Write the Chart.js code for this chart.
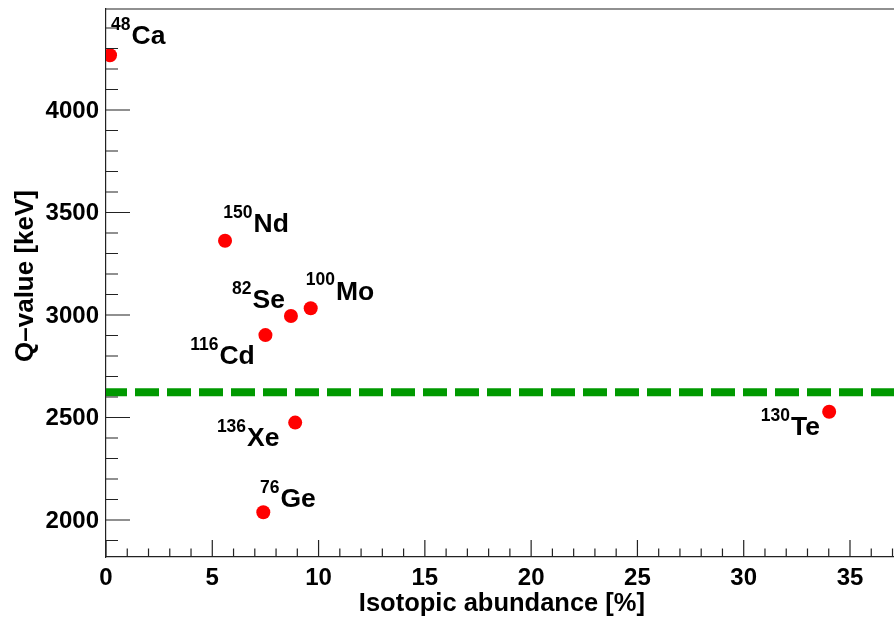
<!DOCTYPE html>
<html>
<head>
<meta charset="utf-8">
<script src="https://cdn.jsdelivr.net/npm/chart.js@4/dist/chart.umd.min.js"></script>
<style>
html,body{margin:0;padding:0;background:#fff;}
#wrap{width:894px;height:618px;position:relative;}
</style>
</head>
<body>
<div id="wrap"><canvas id="c" width="894" height="618"></canvas></div>
<script>
// ---- data ----
const massNumbers = ['48', '150', '82', '100', '116', '136', '76', '130'];
const elements = ['Ca', 'Nd', 'Se', 'Mo', 'Cd', 'Xe', 'Ge', 'Te'];
const abundance = [0.19, 5.6, 8.7, 9.63, 7.5, 8.9, 7.4, 34.02];   // %
const qValue = [4267, 3362, 2995, 3033, 2902, 2475, 2038, 2528];   // keV
const thresholdQ = [2623];                                          // keV, dashed line
const xRange = [0, 37.07];
const yRange = [1819.5, 4492.7];
const xTickValues = [0, 5, 10, 15, 20, 25, 30, 35];
const yTickValues = [2000, 2500, 3000, 3500, 4000];
const xTitle = 'Isotopic abundance [%]';
const yTitle = 'Q\u2013value [keV]';

// label placement (pixels relative to the marker): [dx, dy of main baseline, anchor]
const labelPlacement = [
  [1, -11, 'left'],
  [-1.7, -8.4, 'left'],
  [-6, -7.7, 'right'],
  [-5, -8.3, 'left'],
  [-10.7, 29, 'right'],
  [-15.7, 23.5, 'right'],
  [-3.3, -5, 'left'],
  [-9.3, 23.3, 'right']
];

const FONT = '"Liberation Sans", Arial, Helvetica, sans-serif';
const points = abundance.map((x, i) => ({x: x, y: qValue[i]}));

const frameAndTicks = {
  id: 'frameAndTicks',
  afterDatasetsDraw(chart) {
    const ctx = chart.ctx;
    const a = chart.chartArea;
    const xs = chart.scales.x, ys = chart.scales.y;
    ctx.save();
    ctx.strokeStyle = '#222';
    ctx.lineWidth = 1.2;
    ctx.beginPath();
    ctx.moveTo(a.left, a.top); ctx.lineTo(a.right, a.top);
    for (let v = Math.ceil(ys.min / 100) * 100; v <= ys.max; v += 100) {
      const p = ys.getPixelForValue(v);
      const len = (v % 500 === 0) ? 24 : 12;
      ctx.moveTo(a.left, p); ctx.lineTo(a.left + len, p);
    }
    for (let v = Math.ceil(xs.min); v <= xs.max; v += 1) {
      const p = xs.getPixelForValue(v);
      const len = (v % 5 === 0) ? 17 : 8.5;
      ctx.moveTo(p, a.bottom); ctx.lineTo(p, a.bottom - len);
    }
    ctx.stroke();

    // axis titles
    ctx.fillStyle = '#000';
    ctx.font = 'bold 25.5px ' + FONT;
    ctx.textAlign = 'right';
    ctx.textBaseline = 'alphabetic';
    ctx.fillText(xTitle, 645, 610.5);
    ctx.font = 'bold 26px ' + FONT;
    ctx.translate(33, 190);
    ctx.rotate(-Math.PI / 2);
    ctx.fillText(yTitle, 0, 0);
    ctx.restore();

    // isotope labels
    ctx.save();
    ctx.fillStyle = '#000';
    ctx.textBaseline = 'alphabetic';
    ctx.textAlign = 'left';
    const meta = chart.getDatasetMeta(0);
    meta.data.forEach((el, i) => {
      const [dx, dy, anchor] = labelPlacement[i];
      ctx.font = 'bold 17.5px ' + FONT;
      const wSup = ctx.measureText(massNumbers[i]).width;
      ctx.font = 'bold 26.5px ' + FONT;
      const wMain = ctx.measureText(elements[i]).width;
      const gap = 1;
      let left = el.x + dx;
      if (anchor === 'right') left = el.x + dx - (wSup + gap + wMain);
      const base = el.y + dy;
      ctx.font = 'bold 17.5px ' + FONT;
      ctx.fillText(massNumbers[i], left, base - 14.5);
      ctx.font = 'bold 26.5px ' + FONT;
      ctx.fillText(elements[i], left + wSup + gap, base);
    });
    ctx.restore();
  }
};

function fixFit(size, prop) {
  return s => {
    s[prop] = size;
    s.paddingTop = 0; s.paddingBottom = 0; s.paddingLeft = 0; s.paddingRight = 0;
  };
}

new Chart(document.getElementById('c'), {
  type: 'scatter',
  data: {
    datasets: [
      {
        label: 'isotopes',
        data: points,
        pointRadius: 7,
        pointHoverRadius: 7,
        pointBackgroundColor: '#ff0000',
        pointBorderWidth: 0,
        borderWidth: 0
      },
      {
        type: 'line',
        label: 'threshold',
        data: [{x: xRange[0], y: thresholdQ[0]}, {x: xRange[1], y: thresholdQ[0]}],
        borderColor: '#009900',
        borderWidth: 8,
        borderDash: [24, 8],
        borderDashOffset: 3,
        borderCapStyle: 'butt',
        pointRadius: 0,
        fill: false
      }
    ]
  },
  options: {
    responsive: false,
    animation: false,
    events: [],
    layout: {autoPadding: false, padding: {top: 9, right: 0, bottom: 0, left: 0}},
    plugins: {legend: {display: false}, tooltip: {enabled: false}, title: {display: false}},
    scales: {
      x: {
        type: 'linear',
        min: xRange[0], max: xRange[1],
        grid: {display: false, drawTicks: false},
        border: {display: true, color: '#222', width: 1.2},
        afterBuildTicks: s => { s.ticks = xTickValues.map(v => ({value: v})); },
        ticks: {
          padding: 7, maxRotation: 0, autoSkip: false,
          color: '#000', font: {family: FONT, size: 24, weight: 'bold'},
          callback: v => String(v)
        },
        afterFit: fixFit(61, 'height')
      },
      y: {
        type: 'linear',
        min: yRange[0], max: yRange[1],
        grid: {display: false, drawTicks: false},
        border: {display: true, color: '#222', width: 1.2},
        afterBuildTicks: s => { s.ticks = yTickValues.map(v => ({value: v})); },
        ticks: {
          padding: 7, autoSkip: false, labelOffset: 1,
          color: '#000', font: {family: FONT, size: 24, weight: 'bold'},
          callback: v => String(v)
        },
        afterFit: fixFit(106, 'width')
      }
    }
  },
  plugins: [frameAndTicks]
});
</script>
</body>
</html>
